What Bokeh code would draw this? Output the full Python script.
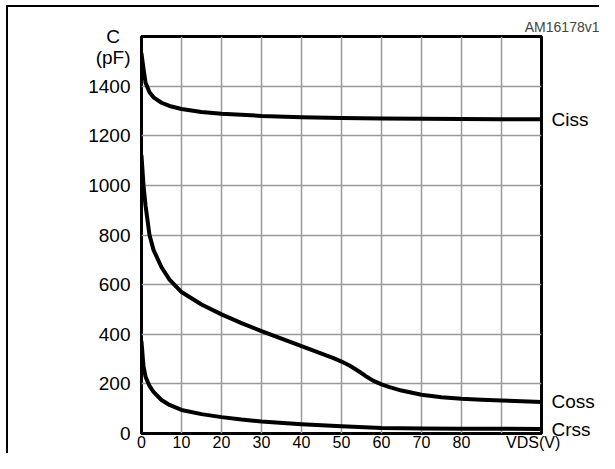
from bokeh.plotting import figure
from bokeh.models import Range1d, FixedTicker, LinearAxis, InlineStyleSheet
from bokeh.embed import file_html
from bokeh.resources import INLINE

# ---- data ----
v_ciss = [0, 0.5, 1, 2, 3, 5, 7, 10, 15, 20, 30, 40, 50, 60, 70, 80, 90, 100]
ciss = [1530, 1470, 1415, 1375, 1355, 1333, 1320, 1308, 1296, 1289, 1280, 1275, 1272, 1270, 1269, 1268, 1267, 1266]

v_coss = [0, 0.5, 1, 2, 3, 5, 7, 10, 15, 20, 25, 30, 35, 40, 45, 48, 50, 52, 54, 56, 58, 60, 62, 65, 70, 75, 80, 85, 90, 95, 100]
coss = [1120, 1000, 920, 800, 740, 670, 620, 570, 520, 480, 445, 413, 382, 352, 322, 304, 290, 274, 254, 232, 212, 198, 187, 173, 156, 146, 140, 136, 133, 130, 127]

v_crss = [0, 0.5, 1, 1.5, 2, 3, 5, 7, 10, 15, 20, 25, 30, 40, 50, 60, 70, 80, 90, 100]
crss = [370, 270, 230, 210, 192, 168, 135, 115, 95, 78, 66, 56, 48, 37, 29, 22, 20, 19, 19, 18]

x_ticks = [0, 10, 20, 30, 40, 50, 60, 70, 80]
y_ticks = [0, 200, 400, 600, 800, 1000, 1200, 1400]
x_grid = [0, 10, 20, 30, 40, 50, 60, 70, 80, 90, 100]
y_grid = [0, 200, 400, 600, 800, 1000, 1200, 1400, 1600]
x_title = "VDS(V)"
x_title_at = 97.9
y_title = ["C", "(pF)"]
y_title_at = [1600, 1516]
series_names = ["Ciss", "Coss", "Crss"]
code = "AM16178v1"

FONT = "Liberation Sans"

frame_box = InlineStyleSheet(css=(
    ":host { background-color: white;"
    " background-image: linear-gradient(black, black), linear-gradient(black, black);"
    " background-size: 2px 100%, 100% 2px;"
    " background-position: 6px 5px, 6px 5px;"
    " background-repeat: no-repeat, no-repeat; }"))

p = figure(width=599, height=453, output_backend="svg", toolbar_location=None,
           x_range=Range1d(0, 100), y_range=Range1d(0, 1600),
           min_border_left=141, min_border_right=58, min_border_top=36, min_border_bottom=19,
           stylesheets=[frame_box])
p.background_fill_color = "white"
p.border_fill_color = None
p.outline_line_color = "black"
p.outline_line_width = 3

p.title.text = code
p.title.align = "right"
p.title.text_font = FONT
p.title.text_font_size = "14px"
p.title.text_font_style = "normal"
p.title.offset = -58
p.title.standoff = 4

def style_axis(ax, standoff, size="19px"):
    ax.axis_line_color = None
    ax.major_tick_line_color = None
    ax.minor_tick_line_color = None
    ax.major_tick_out = 0
    ax.major_tick_in = 0
    ax.minor_tick_out = 0
    ax.minor_tick_in = 0
    ax.major_label_text_font = FONT
    ax.major_label_text_font_size = size
    ax.major_label_text_font_style = "normal"
    ax.major_label_text_color = "black"
    ax.major_label_standoff = standoff

# bottom axis
p.xaxis.ticker = FixedTicker(ticks=x_ticks + [x_title_at])
p.xaxis.major_label_overrides = {x_title_at: x_title}
style_axis(p.xaxis[0], 0, "16px")

# left axis
p.yaxis.ticker = FixedTicker(ticks=y_ticks + y_title_at)
p.yaxis.major_label_overrides = {y_title_at[0]: y_title[0] + "\u00a0\u00a0",
                                 y_title_at[1]: y_title[1]}
style_axis(p.yaxis[0], 11)

# right axis with the curve names
ends = [ciss[-1], coss[-1], crss[-1]]
rax = LinearAxis(ticker=FixedTicker(ticks=ends),
                 major_label_overrides={e: n for e, n in zip(ends, series_names)})
style_axis(rax, 10)
p.add_layout(rax, "right")

p.xgrid.ticker = FixedTicker(ticks=x_grid)
p.ygrid.ticker = FixedTicker(ticks=y_grid)
for g in (p.xgrid, p.ygrid):
    g.grid_line_color = "#9a9a9a"
    g.grid_line_width = 1.5

for vx, vy in ((v_ciss, ciss), (v_coss, coss), (v_crss, crss)):
    p.line(vx, vy, line_color="black", line_width=4, line_join="round", line_cap="round")

open("out.html", "w").write(file_html(p, INLINE))
